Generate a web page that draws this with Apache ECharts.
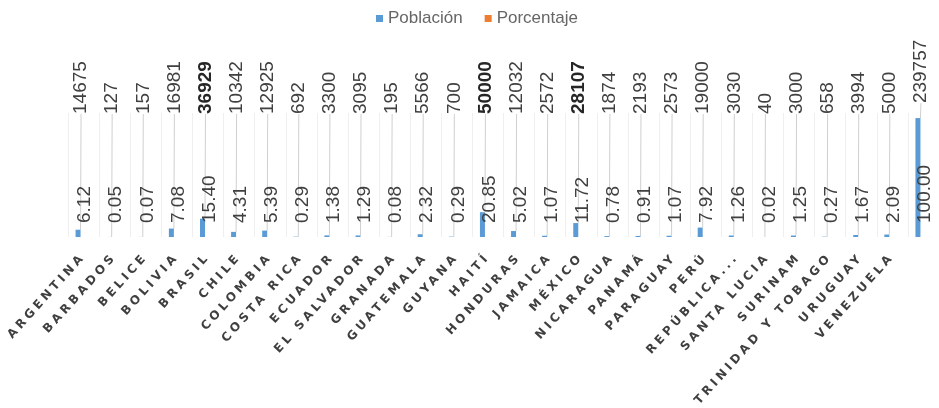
<!DOCTYPE html>
<html>
<head>
<meta charset="utf-8">
<script src="https://cdn.jsdelivr.net/npm/echarts@6/dist/echarts.min.js"></script>
<style>
  html, body { margin: 0; padding: 0; background: #fff; }
  #chart { width: 939px; height: 408px; }
</style>
</head>
<body>
<div id="chart"></div>
<script>
// Countries (last column is the regional total, drawn without a name)
const paises = ['ARGENTINA', 'BARBADOS', 'BELICE', 'BOLIVIA', 'BRASIL', 'CHILE', 'COLOMBIA',
  'COSTA RICA', 'ECUADOR', 'EL SALVADOR', 'GRANADA', 'GUATEMALA', 'GUYANA', 'HAITÍ',
  'HONDURAS', 'JAMAICA', 'MÉXICO', 'NICARAGUA', 'PANAMÁ', 'PARAGUAY', 'PERÚ',
  'REPÚBLICA...', 'SANTA LUCIA', 'SURINAM', 'TRINIDAD Y TOBAGO', 'URUGUAY', 'VENEZUELA', ''];

const poblacion = [14675, 127, 157, 16981, 36929, 10342, 12925, 692, 3300, 3095, 195, 5566,
  700, 50000, 12032, 2572, 28107, 1874, 2193, 2573, 19000, 3030, 40, 3000, 658, 3994, 5000, 239757];

const porcentaje = [6.12, 0.05, 0.07, 7.08, 15.40, 4.31, 5.39, 0.29, 1.38, 1.29, 0.08, 2.32,
  0.29, 20.85, 5.02, 1.07, 11.72, 0.78, 0.91, 1.07, 7.92, 1.26, 0.02, 1.25, 0.27, 1.67, 2.09, 100.00];

// Largest national populations, printed in bold
const destacados = ['BRASIL', 'HAITÍ', 'MÉXICO'];

// Category names use a wide, letter-spaced bold face
const AXIS_FONT = 'DejaVu Sans';
(function () {
  const proto = CanvasRenderingContext2D.prototype;
  const fill = proto.fillText;
  proto.fillText = function (t, x, y, w) {
    if (this.font.indexOf(AXIS_FONT) >= 0 && 'letterSpacing' in this) {
      this.save();
      this.letterSpacing = '3.5px';
      const r = w === undefined ? fill.call(this, t, x, y) : fill.call(this, t, x, y, w);
      this.restore();
      return r;
    }
    return w === undefined ? fill.call(this, t, x, y) : fill.call(this, t, x, y, w);
  };
})();

const chart = echarts.init(document.getElementById('chart'), null, { renderer: 'canvas' });

const labelFont = 'Arial, "Liberation Sans", sans-serif';

chart.setOption({
  animation: false,
  legend: {
    top: 5,
    left: 371,
    itemWidth: 7,
    itemHeight: 7,
    itemGap: 22,
    icon: 'rect',
    textStyle: { fontFamily: labelFont, fontSize: 17, color: '#666666' },
    data: ['Población', 'Porcentaje']
  },
  grid: { left: 68, right: 0, top: 113, bottom: 171 },
  xAxis: {
    type: 'category',
    data: paises,
    axisTick: { show: false },
    axisLine: { show: false },
    splitLine: { show: true, interval: 0, lineStyle: { color: '#EFEFEF', width: 1 } },
    axisLabel: {
      interval: 0,
      rotate: 48,
      margin: 18,
      fontFamily: AXIS_FONT,
      fontWeight: 'bold',
      fontSize: 12,
      color: '#3F3F3F'
    }
  },
  yAxis: {
    type: 'value',
    min: 0,
    max: 250000,
    show: false,
    splitLine: { show: false }
  },
  series: [
    {
      name: 'Población',
      type: 'bar',
      data: poblacion,
      barWidth: 5,
      barGap: '120%',
      itemStyle: { color: '#5B9BD5' },
      label: {
        show: true,
        position: 'insideBottom',
        rotate: 90,
        align: 'left',
        verticalAlign: 'middle',
        distance: 0,
        fontFamily: labelFont,
        fontSize: 19,
        color: '#404040',
        formatter: p => destacados.includes(p.name) ? '{b|' + p.value + '}' : String(p.value),
        rich: { b: { fontFamily: labelFont, fontSize: 19, fontWeight: 'bold', color: '#262626' } }
      },
      labelLine: { show: true, lineStyle: { color: '#CFCFCF', width: 1 } },
      labelLayout: p => {
        const base = p.rect.y + p.rect.height;
        const top = p.rect.y;
        return {
          x: p.rect.x + p.rect.width / 2 + 3,
          y: Math.min(base - 123, top - 15)
        };
      }
    },
    {
      name: 'Porcentaje',
      type: 'bar',
      data: porcentaje,
      barWidth: 5,
      itemStyle: { color: '#ED7D31' },
      label: {
        show: true,
        position: 'insideBottom',
        rotate: 90,
        align: 'left',
        verticalAlign: 'middle',
        distance: 0,
        fontFamily: labelFont,
        fontSize: 19,
        color: '#404040',
        formatter: p => p.value.toFixed(2)
      },
      labelLayout: p => {
        const base = p.rect.y + p.rect.height;
        return { x: p.rect.x + p.rect.width / 2 - 4, y: base - 14 };
      }
    }
  ]
});
</script>
</body>
</html>
